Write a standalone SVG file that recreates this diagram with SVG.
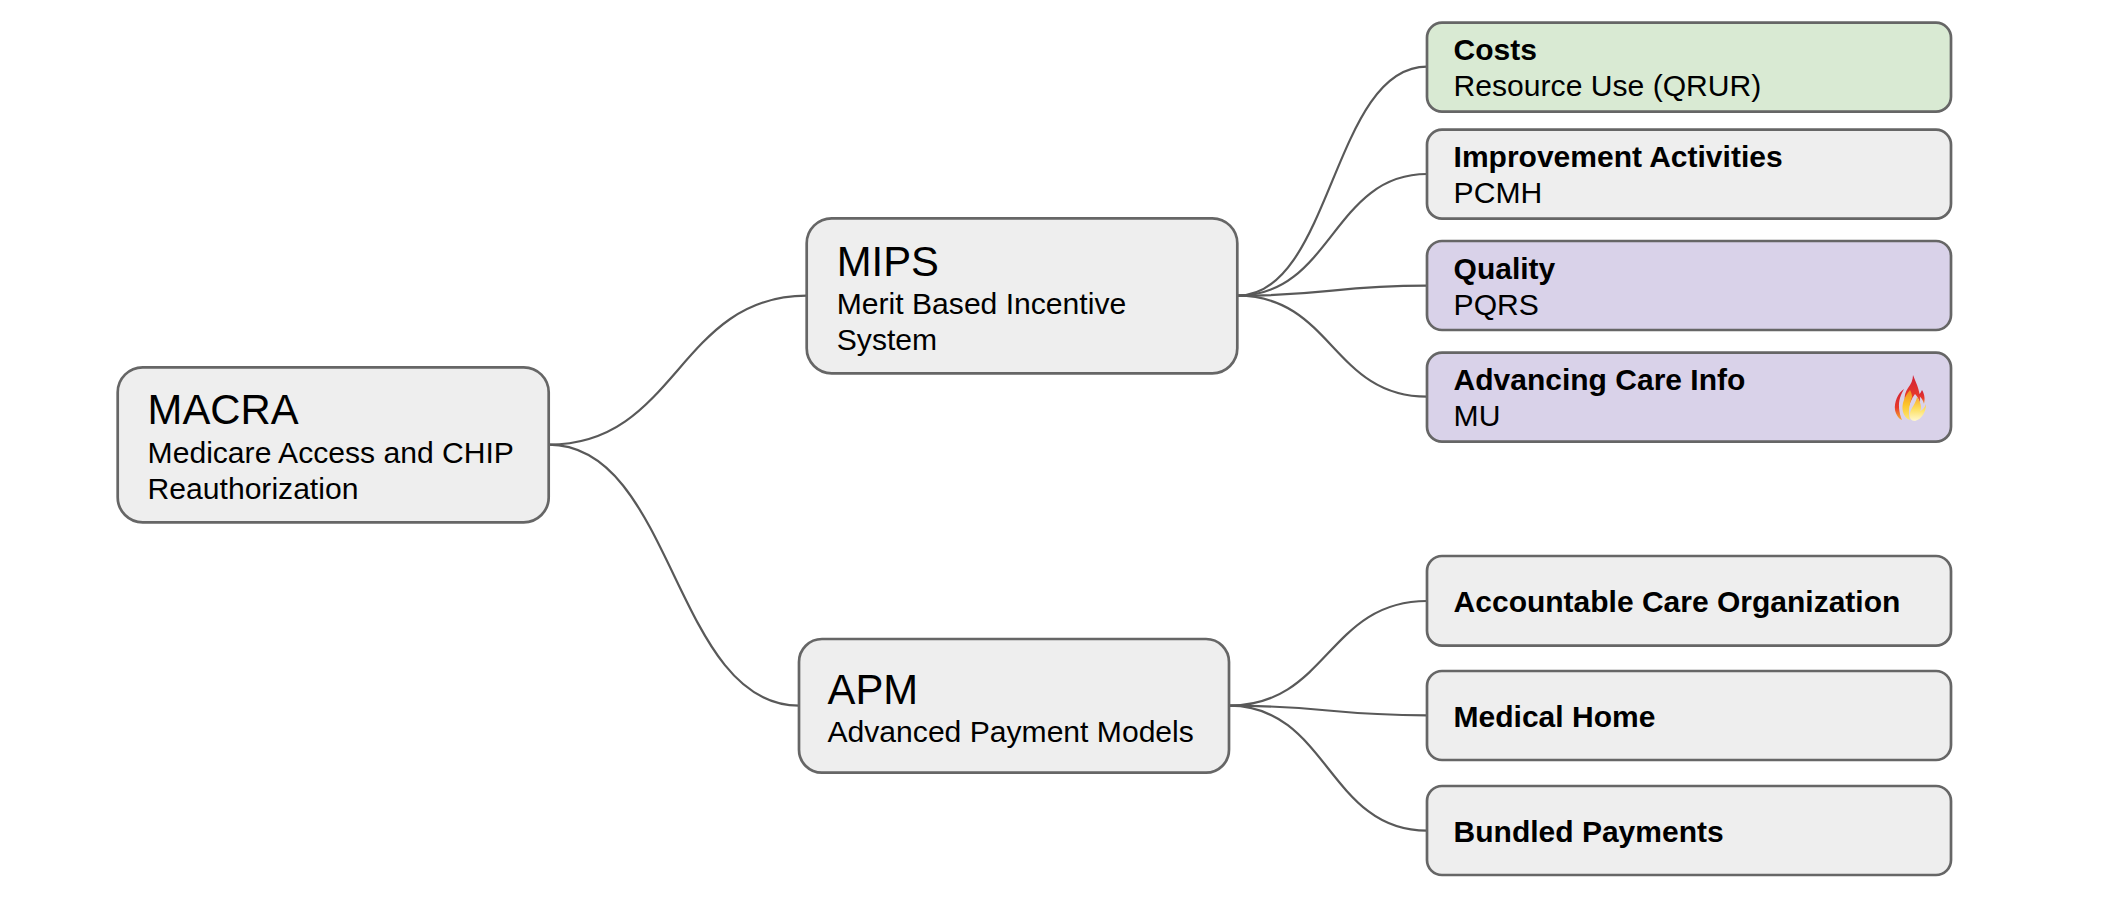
<svg xmlns="http://www.w3.org/2000/svg" width="2114" height="901" viewBox="0 0 2114 901">
<style>
text{font-family:"Liberation Sans",Arial,sans-serif;fill:#000}
.h{font-size:41.8px}
.s{font-size:30.1px}
.b{font-size:30px;font-weight:700}
.n{stroke:#666;stroke-width:2.7px;fill:#eee}
.g{fill:#d9ead3}
.p{fill:#d9d2e9}
#connectors path{fill:none;stroke:#595959;stroke-width:2.2px}
</style>
<defs>
<linearGradient id="fo" x1="0" y1="0" x2="0" y2="1"><stop offset="0" stop-color="#d01f35"/><stop offset=".6" stop-color="#e83a2a"/><stop offset="1" stop-color="#f7b030"/></linearGradient>
<linearGradient id="fm" x1="0" y1="0" x2="0" y2="1"><stop offset="0" stop-color="#f08a20"/><stop offset=".5" stop-color="#fcc62c"/><stop offset="1" stop-color="#fde875"/></linearGradient>
<linearGradient id="fw" x1="0" y1="0" x2="0" y2="1"><stop offset="0" stop-color="#f9a825"/><stop offset=".5" stop-color="#fde060"/><stop offset="1" stop-color="#fff8d0"/></linearGradient>
</defs>
<g id="connectors">
<path d="M548.7 444.7C677.7 444.7 677.7 295.7 806.7 295.7"/>
<path d="M548.7 444.7C673.9 444.7 673.9 705.7 799 705.7"/>
<path d="M1237.3 295.7C1332.2 295.7 1332.2 66.7 1427 66.7"/>
<path d="M1237.3 295.7C1332.2 295.7 1332.2 174 1427 174"/>
<path d="M1237.3 295.7C1332.2 295.7 1332.2 285.7 1427 285.7"/>
<path d="M1237.3 295.7C1332.2 295.7 1332.2 396.7 1427 396.7"/>
<path d="M1229 705.7C1328 705.7 1328 601 1427 601"/>
<path d="M1229 705.7C1328 705.7 1328 715.3 1427 715.3"/>
<path d="M1229 705.7C1328 705.7 1328 830.7 1427 830.7"/>
</g>
<g id="macra"><rect class="n" x="117.7" y="367.3" width="431" height="155" rx="25"/><text class="h" x="147.6" y="424">MACRA</text><text class="s" x="147.6" y="463">Medicare Access and CHIP</text><text class="s" x="147.6" y="499">Reauthorization</text></g>
<g id="mips"><rect class="n" x="806.7" y="218.3" width="430.6" height="155" rx="25"/><text class="h" x="836.8" y="276">MIPS</text><text class="s" x="836.8" y="313.6">Merit Based Incentive</text><text class="s" x="836.8" y="349.6">System</text></g>
<g id="apm"><rect class="n" x="799" y="639" width="430" height="133.7" rx="23"/><text class="h" x="827.5" y="703.5">APM</text><text class="s" x="827.5" y="741.6">Advanced Payment Models</text></g>
<g id="costs"><rect class="n g" x="1427" y="22.7" width="524" height="89" rx="15"/><text class="b" x="1453.6" y="59.5">Costs</text><text class="s" x="1453.6" y="96">Resource Use (QRUR)</text></g>
<g id="improvement"><rect class="n" x="1427" y="129.7" width="524" height="89" rx="15"/><text class="b" x="1453.6" y="166.8">Improvement Activities</text><text class="s" x="1453.6" y="202.6">PCMH</text></g>
<g id="quality"><rect class="n p" x="1427" y="241" width="524" height="89" rx="15"/><text class="b" x="1453.6" y="278.8">Quality</text><text class="s" x="1453.6" y="314.6">PQRS</text></g>
<g id="advancing"><rect class="n p" x="1427" y="352.7" width="524" height="89" rx="15"/><text class="b" x="1453.6" y="390.2">Advancing Care Info</text><text class="s" x="1453.6" y="426">MU</text>
<path fill="url(#fo)" d="M1904 389C1898 393 1894 402 1895 410C1896 415 1899 419 1902 420C1899 413 1898 404 1900 398C1901 394 1903 391 1904 389Z"/>
<path fill="url(#fo)" d="M1913 375C1917 385 1921 393 1920 403C1919 399 1917 396 1915 394C1912 398 1909 404 1908 411C1904 403 1903 395 1908 388C1911 384 1913 380 1913 375Z"/>
<path fill="url(#fo)" d="M1922 390C1925 395 1925 400 1924 404C1923 400 1921 397 1918 395C1920 394 1921 392 1922 390Z"/>
<path fill="url(#fm)" d="M1910 390C1905 396 1901 404 1903 412C1904 416 1907 419 1910 420C1908 413 1909 404 1912 397C1912 394 1911 392 1910 390Z"/>
<path fill="url(#fw)" d="M1917 397C1921 403 1922 408 1920 411C1923 410 1925 407 1926 404C1926 412 1922 419 1915 421C1911 421 1909 418 1910 413C1911 408 1916 403 1917 397Z"/>
</g>
<g id="aco"><rect class="n" x="1427" y="556" width="524" height="89.7" rx="15"/><text class="b" x="1453.6" y="611.5">Accountable Care Organization</text></g>
<g id="home"><rect class="n" x="1427" y="671" width="524" height="89" rx="15"/><text class="b" x="1453.6" y="726.5">Medical Home</text></g>
<g id="bundled"><rect class="n" x="1427" y="786" width="524" height="89" rx="15"/><text class="b" x="1453.6" y="841.5">Bundled Payments</text></g>
</svg>
